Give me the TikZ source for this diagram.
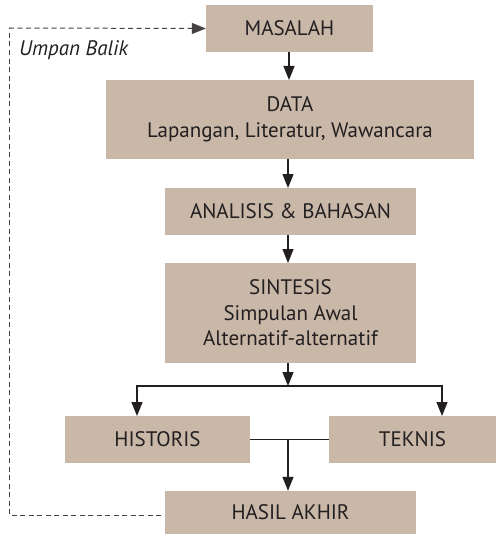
\documentclass[tikz,border=0pt]{standalone}
\usepackage{fontspec}
\setmainfont{PT Sans}
\usetikzlibrary{arrows.meta}
\definecolor{boxfill}{HTML}{C9B8A8}
\definecolor{ink}{HTML}{231F20}
\begin{document}
\begin{tikzpicture}[x=1pt,y=-1pt,
  box/.style={fill=boxfill,draw=none,inner sep=0pt,align=center,text=ink,font=\fontsize{21}{25.5}\selectfont},
  tip/.style={-{Triangle[length=14pt,width=11pt]}},
  arr/.style={draw=ink,line width=1.2pt,tip},
  ln/.style={draw=ink,line width=1.2pt},
  fb/.style={draw=ink!85,line width=1pt,dash pattern=on 5pt off 3.5pt}]
\useasboundingbox (0,0) rectangle (496,535);
\node[box,minimum width=167pt,minimum height=47pt] (mas) at (289.5,28.5) {MASALAH};
\node[box,minimum width=368pt,minimum height=79pt] (data) at (290,119.5) {DATA\\Lapangan, Literatur, Wawancara};
\node[box,minimum width=251pt,minimum height=47pt] (ana) at (290.5,211.5) {ANALISIS \& BAHASAN};
\node[box,minimum width=251pt,minimum height=100pt] (sin) at (290.5,313) {SINTESIS\\Simpulan Awal\\Alternatif-alternatif};
\node[box,minimum width=185pt,minimum height=47pt] (his) at (157.5,439.5) {HISTORIS};
\node[box,minimum width=167pt,minimum height=47pt] (tek) at (412.5,439.5) {TEKNIS};
\node[box,minimum width=251pt,minimum height=43pt] (has) at (290.5,512.5) {HASIL AKHIR};
\node[font=\itshape\fontsize{21}{24}\selectfont,text=ink,anchor=west,inner sep=0pt] (ub) at (19,50) {Umpan Balik};
\coordinate (split) at (288,386);
\coordinate (merge) at (288,439);
\coordinate (fbl) at (9,515);
\coordinate (fbt) at (9,28);
\draw[arr] (289,52) -- (289,80);
\draw[arr] (288,159) -- (288,188);
\draw[arr] (288,235) -- (288,263);
\draw[arr] (288,363) -- (288,386);
\draw[ln] (137,386) -- (442,386);
\draw[arr] (137,385.4) -- (137,416);
\draw[arr] (442,385.4) -- (442,416);
\draw[ln] (his.east) -- (tek.west);
\draw[arr] (merge) -- (has.north -| merge);
\draw[fb] (161,515) -- (fbl) -- (fbt);
\draw[fb,tip] (fbt) -- (mas.west);
\end{tikzpicture}
\end{document}
